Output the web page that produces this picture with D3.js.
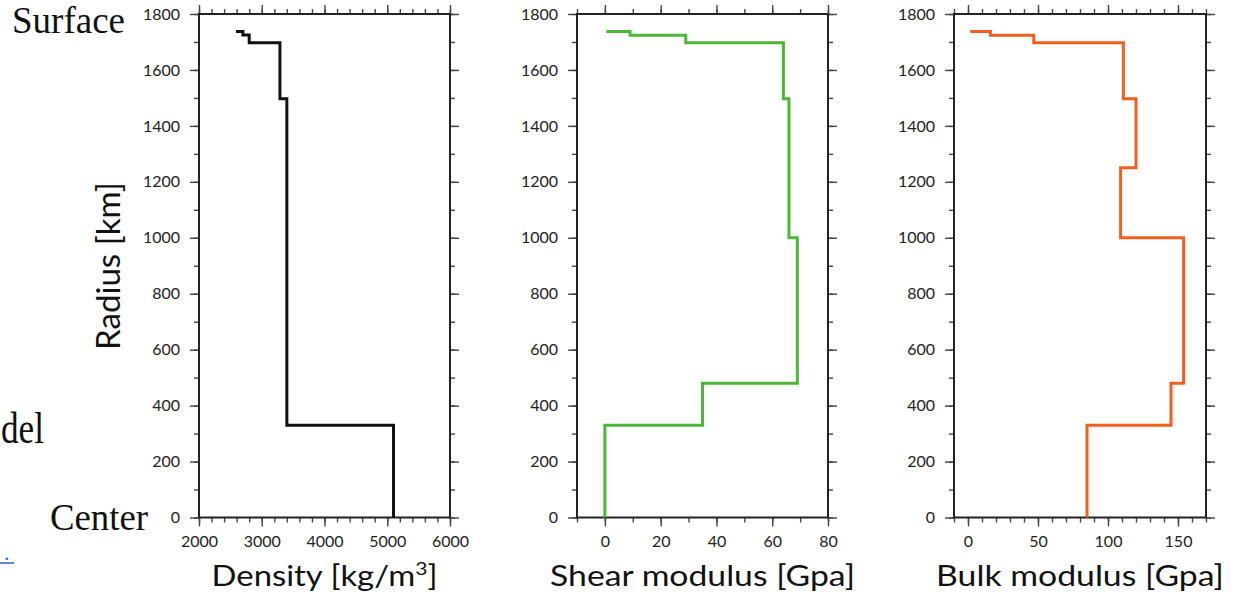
<!DOCTYPE html>
<html><head><meta charset="utf-8">
<script src="https://cdn.jsdelivr.net/npm/d3@7"></script>
<style>body{margin:0;background:#fff}svg{display:block}</style>
</head><body>
<script>
// ---- data ----
const radiusTicks = [0, 200, 400, 600, 800, 1000, 1200, 1400, 1600, 1800];
const densityTops   = [1737, 1737, 1725, 1697, 1497, 330];
const densityValues = [2590, 2700, 2800, 3290, 3400, 5100];
const shearTops     = [1737, 1737, 1724, 1697, 1497, 1000, 480, 330];
const shearValues   = [0.5, 9, 29, 64, 66, 69, 35, 0];
const bulkTops      = [1737, 1737, 1724, 1697, 1497, 1250, 1000, 480, 330];
const bulkValues    = [1.5, 16, 47, 111, 120, 109, 154, 145, 85];
const densityTicks = [2000, 3000, 4000, 5000, 6000];
const shearTicks   = [0, 20, 40, 60, 80];
const bulkTicks    = [0, 50, 100, 150];

const W = 1241, H = 602;
const svg = d3.select("body").append("svg").attr("width", W).attr("height", H);

const yTop = 14, yBot = 517.5;
const y = d3.scaleLinear().domain([0, 1800]).range([yBot, yTop]);
const yMinor = d3.range(0, 1801, 100);

const panels = [
  {x0: 199, x1: 450, domain: [2000, 6000], ticks: densityTicks, minor: 200, tops: densityTops, values: densityValues, color: "#111111", label: "density"},
  {x0: 577, x1: 828, domain: [-10, 80], ticks: shearTicks, minor: 10, tops: shearTops, values: shearValues, color: "#4db636", label: "Shear modulus [Gpa]", width: 305},
  {x0: 954, x1: 1206, domain: [-10, 170], ticks: bulkTicks, minor: 10, tops: bulkTops, values: bulkValues, color: "#f05f1f", label: "Bulk modulus [Gpa]", width: 288}
];

function styleAxis(g) {
  g.select(".domain").remove();
  g.selectAll(".tick line").attr("stroke", "#444").attr("stroke-width", 1.4);
  g.selectAll(".tick text").attr("font-family", "Lato, sans-serif").attr("font-size", 16).attr("fill", "#222");
}

panels.forEach(p => {
  const x = d3.scaleLinear().domain(p.domain).range([p.x0, p.x1]);
  const g = svg.append("g");
  const minorX = d3.range(Math.ceil(p.domain[0] / p.minor) * p.minor, p.domain[1] + 0.001, p.minor);

  // minor ticks
  g.append("g").attr("transform", `translate(0,${yBot})`).call(d3.axisBottom(x).tickValues(minorX).tickSize(5).tickFormat("")).call(styleAxis);
  g.append("g").attr("transform", `translate(0,${yTop})`).call(d3.axisTop(x).tickValues(minorX).tickSize(5).tickFormat("")).call(styleAxis);
  g.append("g").attr("transform", `translate(${p.x0},0)`).call(d3.axisLeft(y).tickValues(yMinor).tickSize(5).tickFormat("")).call(styleAxis);
  g.append("g").attr("transform", `translate(${p.x1},0)`).call(d3.axisRight(y).tickValues(yMinor).tickSize(5).tickFormat("")).call(styleAxis);
  // major ticks
  g.append("g").attr("transform", `translate(0,${yBot})`).call(d3.axisBottom(x).tickValues(p.ticks).tickSize(9).tickPadding(9).tickFormat(d3.format("d"))).call(styleAxis);
  g.append("g").attr("transform", `translate(0,${yTop})`).call(d3.axisTop(x).tickValues(p.ticks).tickSize(9).tickFormat("")).call(styleAxis);
  g.append("g").attr("transform", `translate(${p.x0},0)`).call(d3.axisLeft(y).tickValues(radiusTicks).tickSize(9).tickPadding(10).tickFormat(d3.format("d"))).call(styleAxis);
  g.append("g").attr("transform", `translate(${p.x1},0)`).call(d3.axisRight(y).tickValues(radiusTicks).tickSize(9).tickFormat("")).call(styleAxis);

  // frame
  g.append("rect").attr("x", p.x0).attr("y", yTop).attr("width", p.x1 - p.x0).attr("height", yBot - yTop)
    .attr("fill", "none").attr("stroke", "#222").attr("stroke-width", 2);

  // step profile
  const pts = [];
  p.tops.forEach((t, i) => {
    const bottom = i + 1 < p.tops.length ? p.tops[i + 1] : 0;
    pts.push([p.values[i], t], [p.values[i], bottom]);
  });
  g.append("path").datum(pts)
    .attr("d", d3.line().x(d => x(d[0])).y(d => y(d[1])))
    .attr("fill", "none").attr("stroke", p.color).attr("stroke-width", 3).attr("stroke-linejoin", "miter");

  // x label
  const cx = (p.x0 + p.x1) / 2;
  const t = svg.append("text").attr("font-family", "Lato, sans-serif").attr("font-size", 28).attr("fill", "#111")
    .attr("text-anchor", "middle");
  let target;
  if (p.label === "density") {
    t.append("tspan").text("Density [kg/m");
    t.append("tspan").text("3").attr("font-size", 18).attr("dy", -11);
    t.append("tspan").text("]").attr("dy", 11);
    target = 226;
  } else {
    t.text(p.label);
    target = p.width;
  }
  const w = t.node().getComputedTextLength();
  t.attr("transform", `translate(${cx},586) scale(${target / w},1)`);
});

// y label
const yl = svg.append("text").attr("font-family", "Lato, sans-serif").attr("font-size", 33).attr("fill", "#111")
  .attr("text-anchor", "middle").text("Radius [km]");
const ylw = yl.node().getComputedTextLength();
yl.attr("transform", `translate(120,266) rotate(-90) scale(${168 / ylw},1)`);

// slide texts
function serif(txt, x0, base, size, width, anchor) {
  const t = svg.append("text").attr("font-family", "'Liberation Serif', 'Times New Roman', serif")
    .attr("font-size", size).attr("fill", "#111").attr("text-anchor", anchor || "start").text(txt);
  if (width) {
    const w = t.node().getComputedTextLength();
    t.attr("transform", `translate(${x0},${base}) scale(${width / w},1)`);
  } else {
    t.attr("x", x0).attr("y", base);
  }
  return t;
}
serif("Surface", 12, 33, 37, 113);
serif("Center", 50, 530, 37, 98);
serif("del", 1, 443, 45, 43);
svg.append("text").attr("x", 4).attr("y", 560).attr("font-family", "'Liberation Serif', serif")
  .attr("font-size", 22).attr("fill", "#2b5fe0").text(".");
svg.append("line").attr("x1", 0).attr("x2", 14).attr("y1", 563).attr("y2", 563)
  .attr("stroke", "#2b5fe0").attr("stroke-width", 1.5);
</script>
</body></html>
